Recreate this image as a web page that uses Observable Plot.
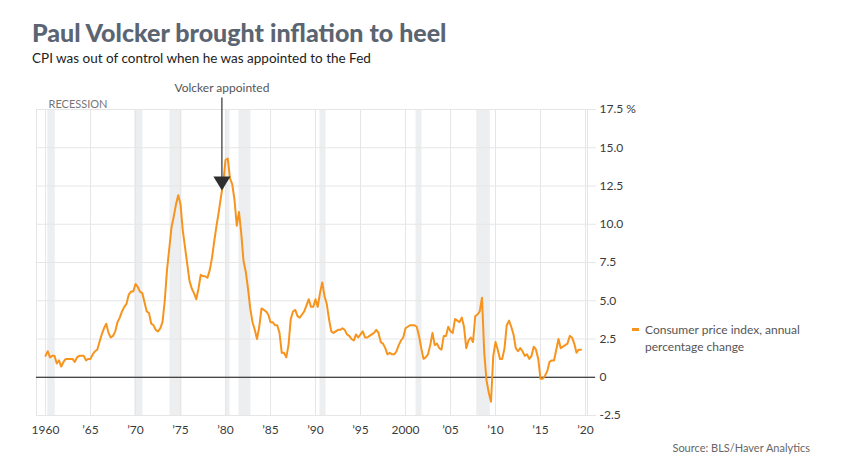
<!DOCTYPE html>
<html>
<head>
<meta charset="utf-8">
<script src="https://cdn.jsdelivr.net/npm/d3@7"></script>
<script src="https://cdn.jsdelivr.net/npm/@observablehq/plot@0.6"></script>
<style>
  body { margin: 0; background: #fff; font-family: Lato, "Open Sans", sans-serif; }
  #wrap { position: relative; width: 841px; height: 475px; overflow: hidden; }
  #chart { position: absolute; left: 0; top: 0; }
  #title { position: absolute; left: 32px; top: 17px; font-size: 25px; font-weight: 900; color: #5b6572; white-space: nowrap; }
  #subtitle { position: absolute; left: 32px; top: 50px; font-size: 13.5px; color: #222; white-space: nowrap; }
  #legend { position: absolute; left: 632px; top: 321px; font-size: 12px; line-height: 17px; color: #555; }
  #legend .swatch { position: absolute; left: 0; top: 7px; width: 7px; height: 2.5px; background: #f7941d; }
  #legend .label { position: absolute; left: 13px; top: 0; white-space: nowrap; }
  #source { position: absolute; right: 31px; top: 441px; font-size: 11px; color: #666; white-space: nowrap; }
</style>
</head>
<body>
<div id="wrap">
  <div id="chart"></div>
  <div id="title">Paul Volcker brought inflation to heel</div>
  <div id="subtitle">CPI was out of control when he was appointed to the Fed</div>
  <div id="legend"><span class="swatch"></span><span class="label">Consumer price index, annual<br>percentage change</span></div>
  <div id="source">Source: BLS/Haver Analytics</div>
</div>
<script>
// Consumer price index, year-over-year % change, quarterly averages from 1960 Q1 to 2019 Q3
const firstYear = 1960;
const cpiChange = [
  1.4, 1.7, 1.3, 1.4,   1.4, 0.9, 1.1, 0.7,   1.0, 1.2, 1.2, 1.2,   1.2, 1.0, 1.3, 1.4,   // 1960-63
  1.4, 1.4, 1.1, 1.2,   1.2, 1.5, 1.7, 1.8,   2.3, 2.8, 3.2, 3.5,   2.9, 2.6, 2.7, 3.0,   // 1964-67
  3.6, 3.9, 4.3, 4.6,   4.8, 5.4, 5.6, 5.6,   6.1, 5.9, 5.6, 5.5,   4.9, 4.3, 4.2, 3.5,   // 1968-71
  3.4, 3.1, 3.0, 3.2,   3.6, 5.0, 7.0, 8.4,   9.8, 10.5, 11.3, 11.9, 11.3, 9.6, 8.5, 7.4, // 1972-75
  6.3, 5.8, 5.5, 5.1,   5.8, 6.7, 6.6, 6.6,   6.5, 7.0, 7.8, 8.9,   9.9, 10.8, 11.8, 12.7, // 1976-79
  14.2, 14.3, 13.0, 12.6, 11.6, 9.9, 10.8, 9.4, 7.6, 6.9, 5.8, 4.5,  3.6, 3.1, 2.5, 3.3,   // 1980-83
  4.5, 4.4, 4.3, 4.1,   3.6, 3.6, 3.4, 3.4,   2.9, 1.6, 1.6, 1.3,   2.1, 3.8, 4.3, 4.4,   // 1984-87
  4.0, 3.9, 4.1, 4.3,   4.7, 5.1, 4.6, 4.6,   5.1, 4.6, 5.5, 6.2,   5.3, 4.8, 3.8, 3.0,   // 1988-91
  2.9, 3.0, 3.1, 3.1,   3.2, 3.1, 2.8, 2.7,   2.5, 2.4, 2.8, 2.6,   2.8, 3.0, 2.6, 2.6,   // 1992-95
  2.7, 2.8, 2.9, 3.1,   2.9, 2.3, 2.2, 1.9,   1.5, 1.6, 1.5, 1.5,   1.7, 2.1, 2.4, 2.6,   // 1996-99
  3.2, 3.3, 3.4, 3.4,   3.4, 3.3, 2.7, 1.9,   1.2, 1.3, 1.5, 2.1,   2.9, 2.1, 2.2, 1.9,   // 2000-03
  1.8, 2.7, 2.7, 3.3,   3.0, 2.9, 3.8, 3.7,   3.6, 3.9, 3.3, 1.9,   2.4, 2.6, 2.3, 4.0,   // 2004-07
  4.1, 4.3, 5.2, 1.6,   -0.2, -1.0, -1.6, 1.4, 2.3, 1.8, 1.2, 1.2,  1.9, 3.4, 3.7, 3.3,   // 2008-11
  2.8, 1.9, 1.7, 1.9,   1.7, 1.4, 1.5, 1.2,   1.4, 2.0, 1.8, 1.2,   -0.1, -0.1, 0.1, 0.4, // 2012-15
  1.0, 1.1, 1.1, 1.8,   2.5, 1.9, 2.0, 2.1,   2.2, 2.7, 2.6, 2.2,   1.6, 1.8, 1.8         // 2016-19
];

// NBER recessions, as fractional years
const recessionStart = [1960.25, 1969.92, 1973.83, 1980.0, 1981.5, 1990.5, 2001.17, 2007.92];
const recessionEnd   = [1961.08, 1970.83, 1975.17, 1980.5, 1982.83, 1991.17, 2001.83, 2009.42];

// Axis ticks and their labels
const xTicks = [1960, 1965, 1970, 1975, 1980, 1985, 1990, 1995, 2000, 2005, 2010, 2015, 2020];
const xTickLabels = ["1960", "’65", "’70", "’75", "’80", "’85", "’90", "’95", "2000", "’05", "’10", "’15", "’20"];
const yTicks = [-2.5, 0, 2.5, 5, 7.5, 10, 12.5, 15, 17.5];
const yTickLabels = ["-2.5", "0", "2.5", "5.0", "7.5", "10.0", "12.5", "15.0", "17.5 %"];

// Volcker's appointment as Fed chairman (August 1979) and the CPI reading it points at
const appointedDate = 1979.6;
const appointedCpi = 12.2;
const appointedLabel = "Volcker appointed";
const arrowTop = 18.25;

const cpiSeries = cpiChange.map((value, i) => ({date: firstYear + i / 4, value}));
const recessions = recessionStart.map((start, i) => ({start, end: recessionEnd[i]}));

// Filled, downward-pointing triangle whose tip sits on the anchor point
const downTriangle = {
  draw(context) {
    context.moveTo(-8.5, -14);
    context.lineTo(8.5, -14);
    context.lineTo(0, 0);
    context.closePath();
  }
};

const grid = "#e6e6e6";
const orange = "#f7941d";

const chart = Plot.plot({
  width: 841,
  height: 475,
  marginLeft: 36,
  marginRight: 254,
  marginTop: 109,
  marginBottom: 60,
  style: {fontFamily: "Lato, 'Open Sans', sans-serif", fontSize: "12px", background: "transparent", overflow: "visible"},
  x: {domain: [1959, 2020.222], label: null},
  y: {domain: [-2.5, 17.5], label: null},
  marks: [
    Plot.rect(recessions, {x1: "start", x2: "end", y1: -2.5, y2: 17.5, fill: "#eceef0"}),
    Plot.gridX(xTicks, {stroke: grid, strokeOpacity: 1}),
    Plot.gridY(yTicks, {stroke: grid, strokeOpacity: 1}),
    Plot.frame({stroke: grid}),
    Plot.axisY(yTicks, {
      anchor: "right", label: null, tickSize: 8, tickPadding: 4, stroke: grid, fill: "#3a3a3a",
      tickFormat: (d) => yTickLabels[yTicks.indexOf(d)]
    }),
    Plot.axisX(xTicks, {
      anchor: "bottom", label: null, tickSize: 0, tickPadding: 10, fill: "#3a3a3a",
      tickFormat: (d) => xTickLabels[xTicks.indexOf(d)]
    }),
    Plot.ruleY([0], {stroke: "#111", strokeWidth: 1.2, insetRight: -8}),
    Plot.line(cpiSeries, {x: "date", y: "value", stroke: orange, strokeWidth: 2, strokeLinejoin: "round"}),
    Plot.text(["RECESSION"], {frameAnchor: "top-left", dx: 12, dy: -9, textAnchor: "start", fill: "#777", fontSize: 11}),
    Plot.ruleX([appointedDate], {y1: arrowTop, y2: appointedCpi + 0.6, stroke: "#333", strokeWidth: 1.2}),
    Plot.dot([appointedDate], {x: (d) => d, y: appointedCpi, symbol: downTriangle, fill: "#2e2e2e", stroke: "none", r: 7}),
    Plot.text([appointedLabel], {x: appointedDate, frameAnchor: "top", dy: -26, fill: "#555", fontSize: 12})
  ]
});

document.getElementById("chart").appendChild(chart);
</script>
</body>
</html>
